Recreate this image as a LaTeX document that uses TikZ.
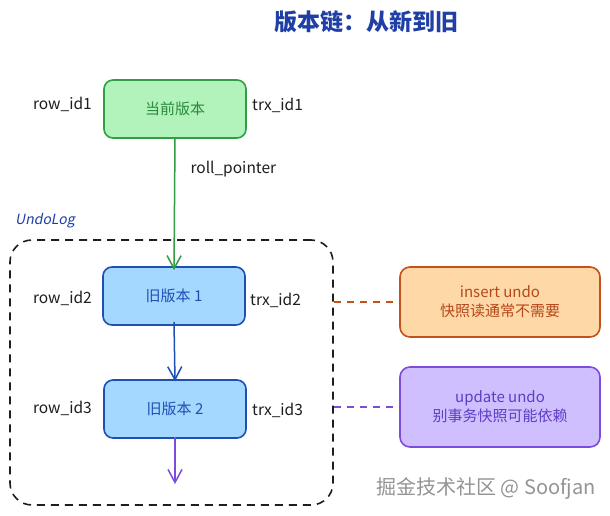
\documentclass[tikz,border=0pt]{standalone}
\usepackage{fontspec}
\setmainfont{Noto Sans CJK SC}
\newfontfamily\slantfont[FakeSlant=0.2]{Noto Sans CJK SC}
\usetikzlibrary{arrows.meta}
\definecolor{ttl}{HTML}{1F3FA6}
\definecolor{gfill}{HTML}{B2F2BB}
\definecolor{gline}{HTML}{2F9E44}
\definecolor{gtext}{HTML}{2B8A3E}
\definecolor{bfill}{HTML}{A5D8FF}
\definecolor{bline}{HTML}{1E4FB5}
\definecolor{ofill}{HTML}{FFD8A8}
\definecolor{oline}{HTML}{C2511A}
\definecolor{otext}{HTML}{B5481A}
\definecolor{pfill}{HTML}{D0BFFF}
\definecolor{pline}{HTML}{7C4DDB}
\definecolor{ptext}{HTML}{5F3DC4}
\definecolor{ink}{HTML}{1E1E1E}
\tikzset{
  vbox/.style={draw, line width=1.6pt, rounded corners=9pt, minimum width=142pt, minimum height=58pt, font=\fontsize{15}{17}\selectfont, inner sep=0pt},
  notebox/.style={draw, line width=1.6pt, rounded corners=10pt, minimum width=200pt, align=center, font=\fontsize{15}{19}\selectfont, inner sep=0pt},
  lbl/.style={text=ink, font=\fontsize{15.5}{17}\selectfont, inner sep=0pt},
  arr/.style={line width=1.5pt, -{Straight Barb[length=13pt,width=14pt,line width=1.5pt]}},
  link/.style={line width=1.4pt, dash pattern=on 7pt off 6pt},
}
\begin{document}
\begin{tikzpicture}[x=1pt,y=-1pt]
\useasboundingbox[fill=white] (0,0) rectangle (610,516);
\node[text=ttl, font=\fontsize{23}{27}\selectfont\bfseries] (title) at (366,22) {版本链：从新到旧};
% current version
\node[vbox, fill=gfill, draw=gline, text=gtext] (cur) at (175,109) {当前版本};
\node[lbl, anchor=east] (r1) at (92,104) {row\_id1};
\node[lbl, anchor=west] (t1) at (252,105) {trx\_id1};
% undo log frame
\node[draw=ink, line width=1.6pt, dash pattern=on 8pt off 6pt, rounded corners=22pt, minimum width=323pt, minimum height=265pt, inner sep=0pt] (frame) at (171.5,372.5) {};
\node[text=ttl, font=\fontsize{14}{16}\selectfont\slantfont, anchor=west, inner sep=0pt] (ul) at (15,221) {UndoLog};
% old versions
\node[vbox, fill=bfill, draw=bline, text=bline] (o1) at (174,296) {旧版本 1};
\node[lbl, anchor=east] (r2) at (92,298) {row\_id2};
\node[lbl, anchor=west] (t2) at (250,300) {trx\_id2};
\node[vbox, fill=bfill, draw=bline, text=bline] (o2) at (175,409) {旧版本 2};
\node[lbl, anchor=east] (r3) at (92,408) {row\_id3};
\node[lbl, anchor=west] (t3) at (252,410) {trx\_id3};
\coordinate (tail) at (175,484);
% notes
\node[notebox, fill=ofill, draw=oline, text=otext, minimum height=70pt] (ins) at (500,302) {insert undo\\快照读通常不需要};
\node[notebox, fill=pfill, draw=pline, text=ptext, minimum height=80pt] (upd) at (500,407) {update undo\\别事务快照可能依赖};
% connectors
\draw[arr, draw=gline] (cur.south) -- node[lbl, anchor=west, pos=0.23, xshift=15pt] (rp) {roll\_pointer} ([yshift=-4pt]o1.north);
\draw[arr, draw=bline] ([yshift=4pt]o1.south) -- ([yshift=-2pt]o2.north);
\draw[arr, draw=pline] ([yshift=2pt]o2.south) -- (tail);
\draw[link, draw=oline] (frame.east |- ins.west) -- (ins.west);
\draw[link, draw=pline] (frame.east |- upd.west) -- (upd.west);
% watermark
\node[text=black!42, font=\fontsize{20}{23}\selectfont, anchor=east, inner sep=0pt] (wm) at (596,488) {掘金技术社区 @ Soofjan};
\end{tikzpicture}
\end{document}
